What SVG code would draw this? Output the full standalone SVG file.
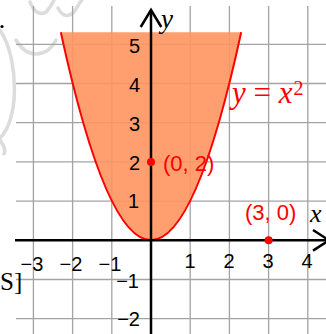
<svg xmlns="http://www.w3.org/2000/svg" width="326" height="334" viewBox="0 0 326 334">
<style>
.grid line{stroke:#a3a3a3;stroke-width:1.3}
.axis{stroke:#000;stroke-width:2.5;fill:none}
.tick{font-family:"Liberation Sans",Arial,sans-serif;font-size:20px;fill:#000}
.red{font-family:"Liberation Sans",Arial,sans-serif;font-size:22px;fill:#ff0000}
.math{font-family:"Liberation Serif","Times New Roman",serif;font-style:italic}
.wm{fill:none;stroke:#dcdcdc;stroke-width:3.5;stroke-linecap:round}
</style>
<rect width="326" height="334" fill="#fff"/>
<g id="watermark">
<path class="wm" d="M0,30 C10,45 16,70 14,100 C12,120 6,132 0,138"/>
<path class="wm" d="M16,40 C22,50 28,54 36,54 C46,54 52,48 56,40"/>
<path class="wm" d="M30,2 C34,12 40,16 46,12 C50,8 52,4 54,0"/>
<path class="wm" d="M58,8 C62,16 68,18 74,12 C78,6 80,2 82,0"/>
<path class="wm" d="M0,140 C4,146 6,150 4,154"/>
</g>
<g class="grid" id="grid">
<line x1="33.4" y1="6" x2="33.4" y2="334"/>
<line x1="72.6" y1="6" x2="72.6" y2="334"/>
<line x1="111.8" y1="6" x2="111.8" y2="334"/>
<line x1="190.2" y1="6" x2="190.2" y2="334"/>
<line x1="229.4" y1="6" x2="229.4" y2="334"/>
<line x1="268.6" y1="6" x2="268.6" y2="334"/>
<line x1="307.8" y1="6" x2="307.8" y2="334"/>
<line x1="16" y1="44.3" x2="326" y2="44.3"/>
<line x1="16" y1="83.5" x2="326" y2="83.5"/>
<line x1="16" y1="122.7" x2="326" y2="122.7"/>
<line x1="16" y1="161.9" x2="326" y2="161.9"/>
<line x1="16" y1="201.1" x2="326" y2="201.1"/>
<line x1="16" y1="279.5" x2="326" y2="279.5"/>
<line x1="16" y1="318.7" x2="326" y2="318.7"/>
</g>
<g id="region">
<path d="M60.8,32.3 Q151,448 241.2,32.3 Z" fill="#ff9560" fill-opacity="0.9"/>
<path d="M60.8,32.3 Q151,448 241.2,32.3" fill="none" stroke="#ff0000" stroke-width="2"/>
</g>
<g id="axes">
<line class="axis" x1="15" y1="240.3" x2="328" y2="240.3"/>
<polyline class="axis" points="313,230 329,240.3 313,250.6"/>
<line class="axis" x1="151" y1="10" x2="151" y2="334"/>
<polyline class="axis" points="140.7,27 151,10 161.3,27"/>
<text class="math" x="161" y="28" font-size="27">y</text>
<text class="math" x="310" y="222" font-size="26">x</text>
</g>
<g id="ticks" class="tick">
<text x="190" y="268" text-anchor="middle">1</text>
<text x="229" y="268" text-anchor="middle">2</text>
<text x="268" y="268" text-anchor="middle">3</text>
<text x="307" y="268" text-anchor="middle">4</text>
<text x="32" y="271" text-anchor="middle">−3</text>
<text x="71" y="271" text-anchor="middle">−2</text>
<text x="110" y="271" text-anchor="middle">−1</text>
<text x="140" y="53" text-anchor="end">5</text>
<text x="140" y="92" text-anchor="end">4</text>
<text x="140" y="131" text-anchor="end">3</text>
<text x="140" y="170" text-anchor="end">2</text>
<text x="139" y="208" text-anchor="end">1</text>
<text x="139" y="288" text-anchor="end">−1</text>
<text x="140" y="326" text-anchor="end">−2</text>
</g>
<g id="point-0-2">
<circle cx="151" cy="161.9" r="4" fill="#ff0000"/>
<text class="red" x="163" y="171">(0, 2)</text>
</g>
<g id="point-3-0">
<circle cx="268.6" cy="240.3" r="4" fill="#ff0000"/>
<text class="red" x="245" y="220">(3, 0)</text>
</g>
<g id="curve-label">
<text class="math" x="232" y="103" font-size="31" fill="#ff0000">y <tspan font-style="normal">=</tspan> x<tspan font-size="20" dx="1" dy="-8" font-style="normal">2</tspan></text>
</g>
<g id="misc">
<text x="0" y="290" font-family="'Liberation Serif','Times New Roman',serif" font-size="25" fill="#000">S]</text>
<circle cx="2" cy="26.5" r="1.6" fill="#000"/>
</g>
</svg>
